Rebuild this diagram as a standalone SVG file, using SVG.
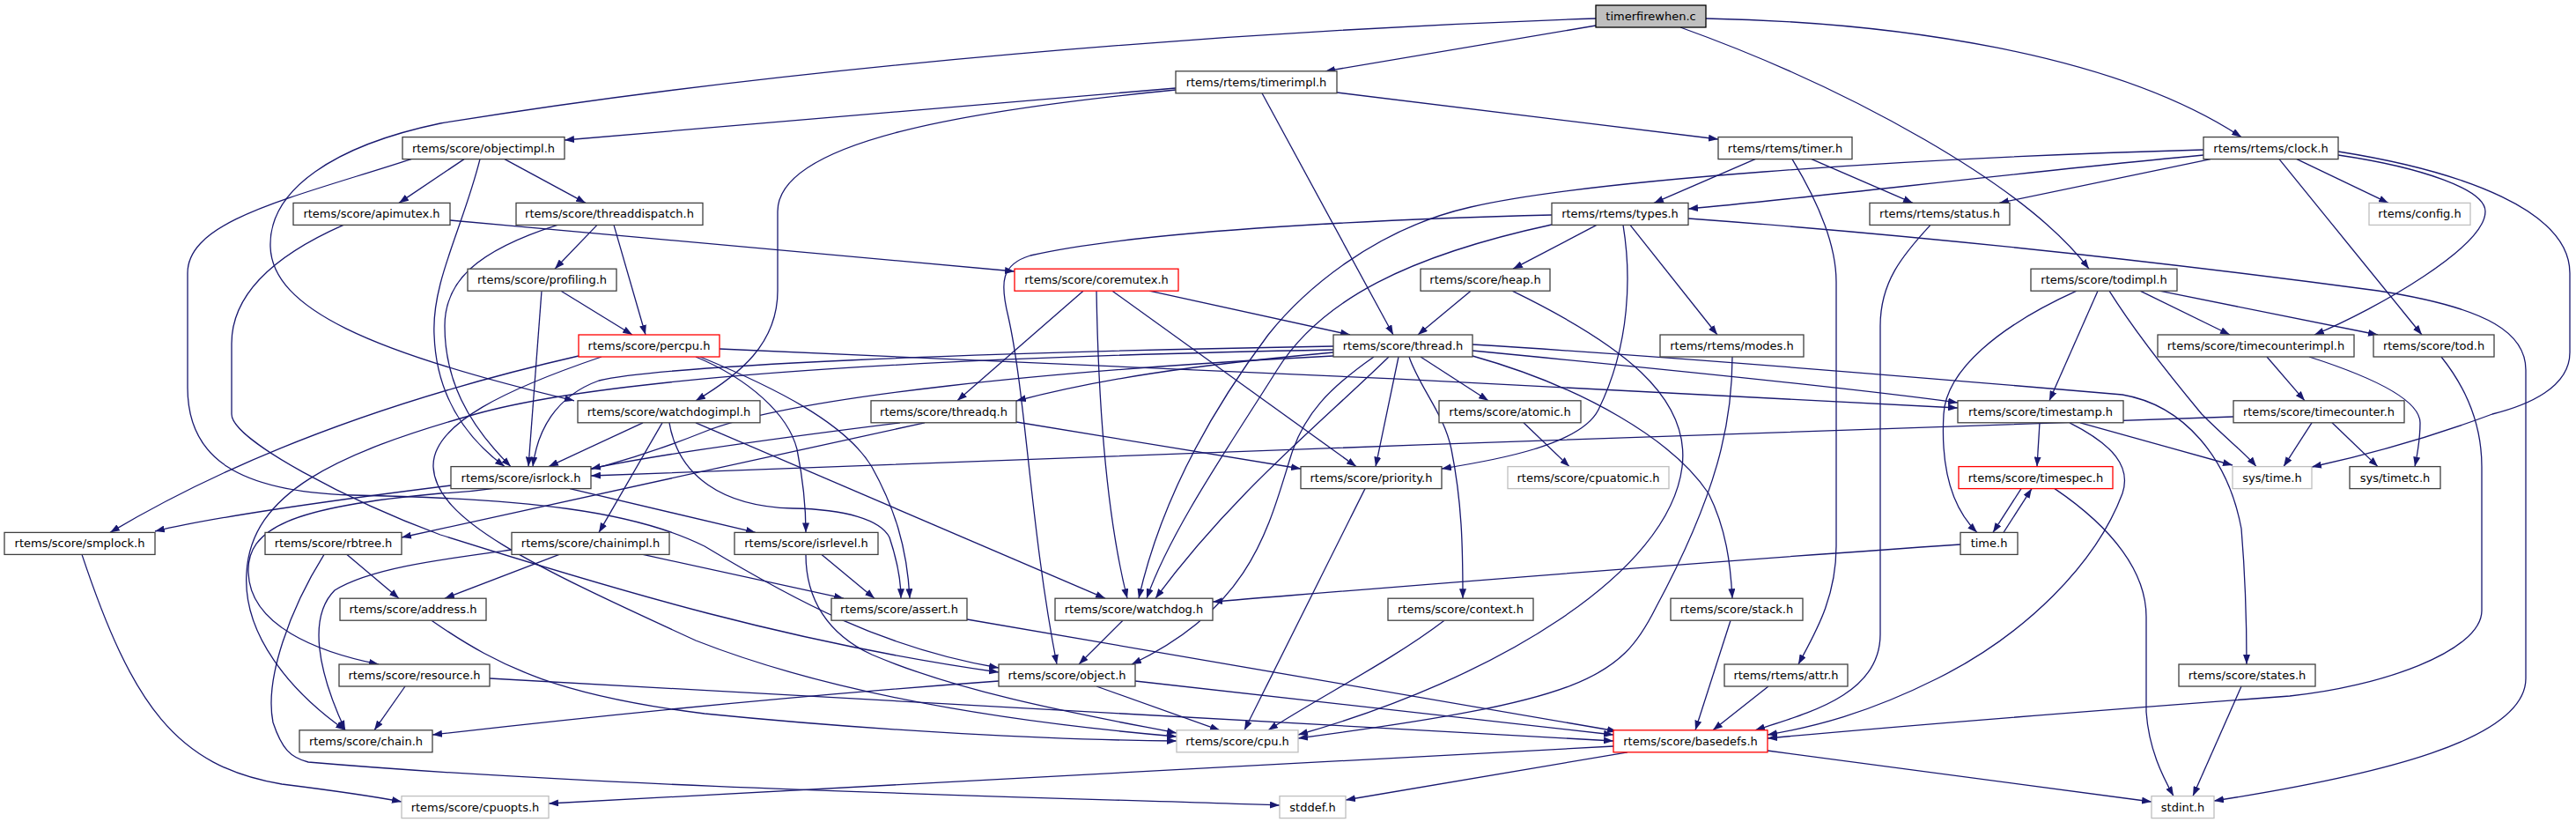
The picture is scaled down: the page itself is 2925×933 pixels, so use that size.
<svg xmlns="http://www.w3.org/2000/svg" width="2925" height="933" viewBox="0 0 2925 933">
<defs>
<marker id="a" viewBox="0 0 11 8" refX="11" refY="4" markerWidth="11" markerHeight="8" orient="auto" markerUnits="userSpaceOnUse"><path d="M0,0 L11,4 L0,8 z" fill="#191970"/></marker>
<style>
.n rect{fill:#fff;stroke:#404040;stroke-width:1.3}
.g rect{stroke:#bfbfbf}
.r rect{stroke:#ff0000}
.root rect{fill:#bfbfbf;stroke:#000}
.n text{font-family:"DejaVu Sans","Liberation Sans",sans-serif;font-size:13px;text-anchor:middle;fill:#000}
#edges path{fill:none;stroke:#191970;stroke-width:1.3;marker-end:url(#a)}
</style>
</defs>
<rect width="2925" height="933" fill="#fff"/>
<g id="edges">
<path d="M1812,29 L1505,80.8"/>
<path d="M1812,21 C1400,35 900,75 500,140 C380,165 305,215 307,280 C309,350 420,400 652,454.8"/>
<path d="M1937,21 C2150,25 2400,60 2545,155.6"/>
<path d="M1908,31 C2100,100 2300,210 2372,305.2"/>
<path d="M1335,100 L641,159"/>
<path d="M1335,102 C1100,125 883,160 883,240 L883,330 C883,390 840,425 790,454.8"/>
<path d="M1518,105 L1951,158"/>
<path d="M1433,105.8 L1582,380"/>
<path d="M1993,180.6 L1878,230.4"/>
<path d="M2057,180.6 L2172,230.4"/>
<path d="M2035,180.6 C2065,230 2085,280 2085,320 L2085,620 C2085,680 2060,720 2042,754"/>
<path d="M2502,176 C2300,195 2050,225 1917,237"/>
<path d="M2510,180.6 L2270,230.4"/>
<path d="M2502,170 C2150,180 1800,205 1670,235 C1560,260 1480,330 1440,380 C1380,460 1320,560 1293,679.2"/>
<path d="M2608,180.6 L2712,230.4"/>
<path d="M2588,180.6 L2750,380"/>
<path d="M2655,176 C2750,190 2822,215 2822,240 C2822,280 2700,350 2628,380"/>
<path d="M2655,172 C2800,195 2918,240 2918,310 L2918,400 C2918,440 2870,460 2830,470 C2750,500 2680,518 2625,530"/>
<path d="M527,180.6 L453,230.4"/>
<path d="M573,180.6 L665,230.4"/>
<path d="M545,180.6 C525,260 490,320 493,380 C495,440 520,490 573,529.6"/>
<path d="M467,180.6 C330,225 213,250 213,310 L213,440 C213,520 270,558 400,562 C600,566 720,580 800,620 C900,680 1000,735 1134,758"/>
<path d="M511,250 L1152,308"/>
<path d="M390,255.4 C300,295 263,340 263,390 L263,470 C263,500 400,570 500,607 C700,670 900,730 1134,763"/>
<path d="M678,255.4 L630,305.2"/>
<path d="M697,255.4 L733,380"/>
<path d="M633,255.4 C540,285 505,320 505,370 C505,430 530,480 580,529.6"/>
<path d="M1813,255.4 L1718,305.2"/>
<path d="M1851,255.4 L1950,380"/>
<path d="M1843,255.4 C1852,310 1852,390 1815,465 C1795,505 1700,522 1637,532"/>
<path d="M1917,248 C2150,265 2400,290 2700,330 C2830,350 2868,380 2868,420 L2868,770 C2868,840 2700,880 2514,909"/>
<path d="M1762,244 C1600,248 1300,260 1170,290 C1137,300 1135,320 1145,360 C1165,450 1170,600 1200,754"/>
<path d="M1762,255 C1600,290 1500,340 1450,420 C1400,500 1330,600 1302,679.2"/>
<path d="M2192,255.4 C2160,290 2135,320 2135,370 L2135,720 C2135,790 2050,810 1993,828.8"/>
<path d="M1305,330.2 L1533,380"/>
<path d="M1230,330.2 L1087,454.8"/>
<path d="M1245,330.2 C1247,450 1255,580 1280,679.2"/>
<path d="M1263,330.2 L1540,529.6"/>
<path d="M1670,330.2 L1610,380"/>
<path d="M1717,330.2 C1840,390 1920,450 1910,530 C1895,650 1700,770 1474,834"/>
<path d="M2382,330.2 L2327,454.8"/>
<path d="M2358,330.2 C2270,370 2210,420 2207,470 C2203,540 2220,580 2245,604.4"/>
<path d="M2395,330.2 C2420,370 2450,410 2500,470 C2530,500 2550,515 2562,529.6"/>
<path d="M2430,330.2 L2532,380"/>
<path d="M2452,330.2 L2700,380"/>
<path d="M637,330.2 L718,380"/>
<path d="M615,330.2 L600,529.6"/>
<path d="M657,404 C500,440 300,500 125,604.4"/>
<path d="M683,405 C580,440 490,480 492,530 C495,590 600,640 790,727 C950,790 1150,820 1336,836"/>
<path d="M790,405 C850,430 895,470 905,510 C913,550 915,580 915,604.4"/>
<path d="M795,405 C880,440 960,480 990,530 C1015,575 1030,620 1033,679.2"/>
<path d="M817,396 C1200,410 1800,440 2223,463"/>
<path d="M1514,393 C1100,400 750,415 680,432 C630,450 610,490 605,529.6"/>
<path d="M1514,397 C1100,405 700,425 540,470 C380,515 285,560 280,650 C275,720 330,785 392,828.8"/>
<path d="M1514,404 C1200,420 900,450 800,490 C700,530 600,555 500,560 C330,575 280,600 282,650 C284,710 360,740 430,754"/>
<path d="M1514,400 C1350,415 1250,430 1154,455"/>
<path d="M1577,405 C1500,480 1400,560 1312,679.2"/>
<path d="M1588,405 L1562,529.6"/>
<path d="M1560,405 C1510,440 1480,470 1465,520 C1440,600 1420,690 1285,754"/>
<path d="M1600,405 C1612,440 1640,470 1648,510 C1660,570 1661,620 1661,679.2"/>
<path d="M1613,405 L1690,454.8"/>
<path d="M1672,404 C1800,440 1900,500 1940,560 C1960,600 1965,640 1967,679.2"/>
<path d="M1672,391 C1900,405 2200,430 2410,448 C2480,460 2530,520 2545,600 C2550,660 2551,720 2551,754"/>
<path d="M1672,398 C1900,420 2100,440 2223,457"/>
<path d="M730,479.8 L623,529.6"/>
<path d="M752,479.8 L680,604.4"/>
<path d="M760,479.8 C770,540 820,575 900,577 C960,578 1000,590 1010,610 C1020,640 1023,660 1023,679.2"/>
<path d="M790,479.8 L1255,679.2"/>
<path d="M1022,479.8 C900,495 750,515 671,532"/>
<path d="M1050,479.8 L456,610"/>
<path d="M1154,479 L1477,532"/>
<path d="M1730,479.8 L1782,529.6"/>
<path d="M2316,479.8 L2313,529.6"/>
<path d="M2362,479.8 L2535,528"/>
<path d="M2350,479.8 C2400,505 2420,530 2410,560 C2380,640 2300,720 2200,770 C2120,810 2060,825 2007,834"/>
<path d="M2625,479.8 L2593,529.6"/>
<path d="M2648,479.8 L2700,529.6"/>
<path d="M2536,473 C2000,490 1200,520 671,540"/>
<path d="M2574,405 L2617,454.8"/>
<path d="M2622,405 C2700,430 2748,455 2748,480 C2748,500 2745,515 2742,529.6"/>
<path d="M2772,405 C2800,440 2818,480 2818,530 L2818,693 C2818,740 2700,780 2600,790 C2400,805 2200,820 2007,838"/>
<path d="M512,551 C400,565 250,585 176,603"/>
<path d="M647,554.6 L858,604.4"/>
<path d="M1550,554.6 L1413,828.8"/>
<path d="M2295,554.6 L2263,604.4"/>
<path d="M2275,604.4 L2307,554.6"/>
<path d="M2333,554.6 C2400,600 2437,650 2437,700 L2437,808 C2440,850 2455,880 2468,903.6"/>
<path d="M394,629.4 L453,679.2"/>
<path d="M368,629.4 C330,690 300,770 310,820 C320,850 330,860 350,865 C700,895 1200,905 1453,914"/>
<path d="M635,629.4 L505,679.2"/>
<path d="M730,629.4 L958,679.2"/>
<path d="M581,624 C500,635 420,645 380,670 C350,700 360,760 392,828.8"/>
<path d="M933,629.4 L993,679.2"/>
<path d="M915,629.4 C915,680 940,720 990,743 C1100,790 1250,815 1336,832"/>
<path d="M2226,618 C1900,640 1600,665 1377,683"/>
<path d="M490,704.2 C570,760 640,790 800,810 C1000,830 1200,840 1336,841"/>
<path d="M1098,703 L1836,830"/>
<path d="M1275,704.2 L1225,754"/>
<path d="M1640,704.2 C1580,750 1500,790 1440,828.8"/>
<path d="M1965,704.2 L1925,828.8"/>
<path d="M460,779 L425,828.8"/>
<path d="M556,770 L1832,841"/>
<path d="M1134,773 C900,790 700,810 491,834"/>
<path d="M1245,779 L1385,828.8"/>
<path d="M1289,773 L1832,834"/>
<path d="M2008,779 L1945,828.8"/>
<path d="M2545,779 L2490,903.6"/>
<path d="M93,629.4 C150,800 200,870 320,890 C400,900 430,905 456,910"/>
<path d="M1832,847 L623,912"/>
<path d="M1848,853.8 L1528,908"/>
<path d="M2007,852 L2443,910"/>
<path d="M1967,405 C1967,480 1950,560 1880,690 C1840,770 1800,795 1474,838"/>
</g>
<g id="root" class="n root"><rect x="1812" y="6" width="125" height="25"/><text x="1874.5" y="23">timerfirewhen.c</text></g>
<g id="timerimpl" class="n"><rect x="1335" y="80.8" width="183" height="25"/><text x="1426.5" y="97.8">rtems/rtems/timerimpl.h</text></g>
<g id="objectimpl" class="n"><rect x="457" y="155.6" width="184" height="25"/><text x="549" y="172.6">rtems/score/objectimpl.h</text></g>
<g id="timer" class="n"><rect x="1951" y="155.6" width="152" height="25"/><text x="2027" y="172.6">rtems/rtems/timer.h</text></g>
<g id="clock" class="n"><rect x="2502" y="155.6" width="153" height="25"/><text x="2578.5" y="172.6">rtems/rtems/clock.h</text></g>
<g id="apimutex" class="n"><rect x="333" y="230.4" width="178" height="25"/><text x="422" y="247.4">rtems/score/apimutex.h</text></g>
<g id="threaddispatch" class="n"><rect x="586" y="230.4" width="212" height="25"/><text x="692" y="247.4">rtems/score/threaddispatch.h</text></g>
<g id="types" class="n"><rect x="1762" y="230.4" width="155" height="25"/><text x="1839.5" y="247.4">rtems/rtems/types.h</text></g>
<g id="status" class="n"><rect x="2123" y="230.4" width="159" height="25"/><text x="2202.5" y="247.4">rtems/rtems/status.h</text></g>
<g id="config" class="n g"><rect x="2690" y="230.4" width="115" height="25"/><text x="2747.5" y="247.4">rtems/config.h</text></g>
<g id="profiling" class="n"><rect x="531" y="305.2" width="169" height="25"/><text x="615.5" y="322.2">rtems/score/profiling.h</text></g>
<g id="coremutex" class="n r"><rect x="1152" y="305.2" width="186" height="25"/><text x="1245" y="322.2">rtems/score/coremutex.h</text></g>
<g id="heap" class="n"><rect x="1613" y="305.2" width="147" height="25"/><text x="1686.5" y="322.2">rtems/score/heap.h</text></g>
<g id="todimpl" class="n"><rect x="2306" y="305.2" width="166" height="25"/><text x="2389" y="322.2">rtems/score/todimpl.h</text></g>
<g id="percpu" class="n r"><rect x="657" y="380" width="160" height="25"/><text x="737" y="397">rtems/score/percpu.h</text></g>
<g id="thread" class="n"><rect x="1514" y="380" width="158" height="25"/><text x="1593" y="397">rtems/score/thread.h</text></g>
<g id="modes" class="n"><rect x="1885" y="380" width="163" height="25"/><text x="1966.5" y="397">rtems/rtems/modes.h</text></g>
<g id="timecounterimpl" class="n"><rect x="2450" y="380" width="223" height="25"/><text x="2561.5" y="397">rtems/score/timecounterimpl.h</text></g>
<g id="tod" class="n"><rect x="2695" y="380" width="137" height="25"/><text x="2763.5" y="397">rtems/score/tod.h</text></g>
<g id="watchdogimpl" class="n"><rect x="656" y="454.8" width="207" height="25"/><text x="759.5" y="471.8">rtems/score/watchdogimpl.h</text></g>
<g id="threadq" class="n"><rect x="989" y="454.8" width="165" height="25"/><text x="1071.5" y="471.8">rtems/score/threadq.h</text></g>
<g id="atomic" class="n"><rect x="1634" y="454.8" width="161" height="25"/><text x="1714.5" y="471.8">rtems/score/atomic.h</text></g>
<g id="timestamp" class="n"><rect x="2223" y="454.8" width="188" height="25"/><text x="2317" y="471.8">rtems/score/timestamp.h</text></g>
<g id="timecounter" class="n"><rect x="2536" y="454.8" width="194" height="25"/><text x="2633" y="471.8">rtems/score/timecounter.h</text></g>
<g id="isrlock" class="n"><rect x="512" y="529.6" width="159" height="25"/><text x="591.5" y="546.6">rtems/score/isrlock.h</text></g>
<g id="priority" class="n"><rect x="1477" y="529.6" width="160" height="25"/><text x="1557" y="546.6">rtems/score/priority.h</text></g>
<g id="cpuatomic" class="n g"><rect x="1712" y="529.6" width="183" height="25"/><text x="1803.5" y="546.6">rtems/score/cpuatomic.h</text></g>
<g id="timespec" class="n r"><rect x="2224" y="529.6" width="175" height="25"/><text x="2311.5" y="546.6">rtems/score/timespec.h</text></g>
<g id="systime" class="n g"><rect x="2535" y="529.6" width="90" height="25"/><text x="2580" y="546.6">sys/time.h</text></g>
<g id="systimetc" class="n"><rect x="2668" y="529.6" width="103" height="25"/><text x="2719.5" y="546.6">sys/timetc.h</text></g>
<g id="smplock" class="n"><rect x="5" y="604.4" width="171" height="25"/><text x="90.5" y="621.4">rtems/score/smplock.h</text></g>
<g id="rbtree" class="n"><rect x="301" y="604.4" width="155" height="25"/><text x="378.5" y="621.4">rtems/score/rbtree.h</text></g>
<g id="chainimpl" class="n"><rect x="581" y="604.4" width="179" height="25"/><text x="670.5" y="621.4">rtems/score/chainimpl.h</text></g>
<g id="isrlevel" class="n"><rect x="834" y="604.4" width="163" height="25"/><text x="915.5" y="621.4">rtems/score/isrlevel.h</text></g>
<g id="timeh" class="n"><rect x="2226" y="604.4" width="65" height="25"/><text x="2258.5" y="621.4">time.h</text></g>
<g id="address" class="n"><rect x="386" y="679.2" width="166" height="25"/><text x="469" y="696.2">rtems/score/address.h</text></g>
<g id="assert" class="n"><rect x="944" y="679.2" width="154" height="25"/><text x="1021" y="696.2">rtems/score/assert.h</text></g>
<g id="watchdog" class="n"><rect x="1198" y="679.2" width="179" height="25"/><text x="1287.5" y="696.2">rtems/score/watchdog.h</text></g>
<g id="context" class="n"><rect x="1576" y="679.2" width="165" height="25"/><text x="1658.5" y="696.2">rtems/score/context.h</text></g>
<g id="stack" class="n"><rect x="1897" y="679.2" width="150" height="25"/><text x="1972" y="696.2">rtems/score/stack.h</text></g>
<g id="resource" class="n"><rect x="385" y="754" width="171" height="25"/><text x="470.5" y="771">rtems/score/resource.h</text></g>
<g id="object" class="n"><rect x="1134" y="754" width="155" height="25"/><text x="1211.5" y="771">rtems/score/object.h</text></g>
<g id="attr" class="n"><rect x="1958" y="754" width="140" height="25"/><text x="2028" y="771">rtems/rtems/attr.h</text></g>
<g id="states" class="n"><rect x="2474" y="754" width="155" height="25"/><text x="2551.5" y="771">rtems/score/states.h</text></g>
<g id="chain" class="n"><rect x="340" y="828.8" width="151" height="25"/><text x="415.5" y="845.8">rtems/score/chain.h</text></g>
<g id="cpu" class="n g"><rect x="1336" y="828.8" width="138" height="25"/><text x="1405" y="845.8">rtems/score/cpu.h</text></g>
<g id="basedefs" class="n r"><rect x="1832" y="828.8" width="175" height="25"/><text x="1919.5" y="845.8">rtems/score/basedefs.h</text></g>
<g id="cpuopts" class="n g"><rect x="456" y="903.6" width="167" height="25"/><text x="539.5" y="920.6">rtems/score/cpuopts.h</text></g>
<g id="stddef" class="n g"><rect x="1453" y="903.6" width="75" height="25"/><text x="1490.5" y="920.6">stddef.h</text></g>
<g id="stdint" class="n g"><rect x="2443" y="903.6" width="71" height="25"/><text x="2478.5" y="920.6">stdint.h</text></g>
</svg>
